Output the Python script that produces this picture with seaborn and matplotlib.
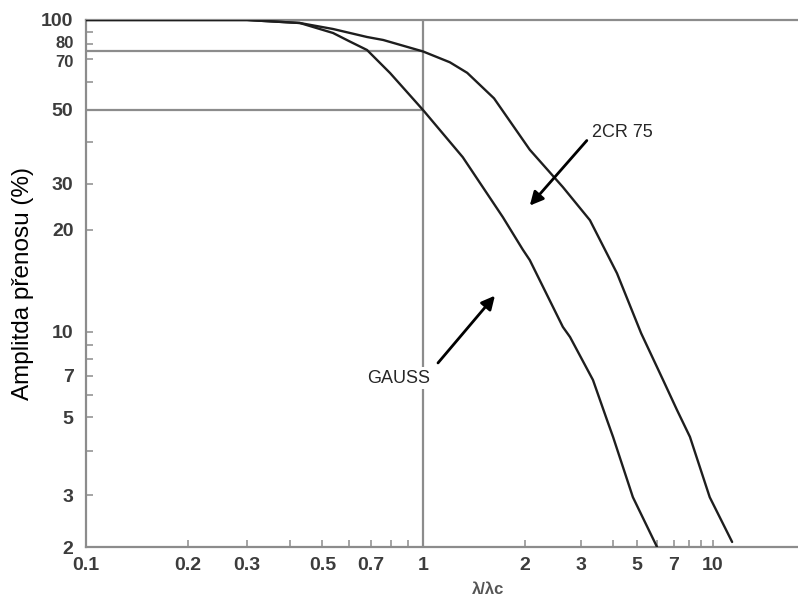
import matplotlib
matplotlib.use("Agg")
import matplotlib.pyplot as plt
import matplotlib.ticker as mticker
import matplotlib.transforms as mtrans
import seaborn as sns
import pandas as pd
import numpy as np

# ---- data (x = lambda/lambda_c, y = amplitude %) ----
gauss_x = [0.1, 0.3, 0.428, 0.538, 0.6, 0.68, 0.797, 1.0, 1.31, 1.72, 1.97, 2.07, 2.63, 2.77, 3.34, 3.79, 4.0, 4.81, 6.0]
gauss_y = [100, 100, 97.3, 88.8, 82.5, 76.0, 63.8, 50.0, 36.1, 22.4, 17.5, 16.3, 10.35, 9.6, 6.76, 4.9, 4.39, 2.95, 2.0]

cr_x = [0.1, 0.3, 0.428, 0.538, 0.68, 0.76, 1.0, 1.2, 1.35, 1.62, 2.07, 2.63, 3.25, 4.15, 5.19, 6.34, 7.2, 8.1, 9.7, 11.9]
cr_y = [100, 100, 97.3, 92.1, 85.6, 83.3, 75.0, 68.5, 63.9, 54.0, 38.0, 29.2, 21.8, 14.9, 9.9, 6.76, 5.29, 4.39, 2.95, 2.08]

x_ticks = [0.1, 0.2, 0.3, 0.5, 0.7, 1, 2, 3, 5, 7, 10]
x_minor = [0.4, 0.6, 0.8, 0.9, 4, 6, 8, 9]
y_ticks = [2, 3, 5, 7, 10, 20, 30, 50, 70, 80, 100]
y_minor = [4, 6, 8, 9, 40, 60, 90]

cutoff = 1.0
levels = [75, 50]

df = pd.concat([
    pd.DataFrame({"x": gauss_x, "y": gauss_y, "filtr": "GAUSS"}),
    pd.DataFrame({"x": cr_x, "y": cr_y, "filtr": "2CR 75"}),
])

# the printed scales are not quite logarithmic, so use a warped log scale
x_anchor = np.log10([0.05, 0.1, 0.2, 0.3, 0.4, 1, 2, 3, 4, 5, 10, 20, 40])
x_pos = np.array([-16, 86, 188, 247, 290, 423, 525, 581, 613, 637, 713, 789, 865], float)
y_anchor = np.log10([1, 2, 3, 5, 10, 20, 30, 50, 70, 100, 200])
y_pos = 547 - np.array([636, 547, 495, 417, 332, 230, 184, 110, 59, 20, -56], float)


def make_scale(anchor, pos):
    def fwd(v):
        with np.errstate(divide="ignore", invalid="ignore"):
            lv = np.log10(np.clip(v, 1e-6, None))
        return np.interp(lv, anchor, pos)

    def inv(p):
        return 10 ** np.interp(p, pos, anchor)
    return fwd, inv


sns.set_style("white")
plt.rcParams["font.family"] = ["Liberation Sans", "DejaVu Sans"]

fig = plt.figure(figsize=(7.98, 6), dpi=100)
ax = fig.add_axes([86 / 798, 53 / 600, 712 / 798, 527 / 600])
ax.set_xscale("function", functions=make_scale(x_anchor, x_pos))
ax.set_yscale("function", functions=make_scale(y_anchor, y_pos))

grey = "#8c8c8c"
# reference lines
ax.axvline(cutoff, color=grey, lw=1.6, zorder=1)
for lv in levels:
    ax.hlines(lv, 0.1, cutoff, color=grey, lw=1.6, zorder=1)

sns.lineplot(data=df, x="x", y="y", hue="filtr", palette=["#1e1e1e", "#1e1e1e"],
             sort=False, estimator=None, lw=1.7, legend=False, ax=ax, zorder=3)

ax.set_xlim(0.1, 21.7)
ax.set_ylim(2, 100)

ax.xaxis.set_major_locator(mticker.FixedLocator(x_ticks))
ax.xaxis.set_minor_locator(mticker.FixedLocator(x_minor))
ax.xaxis.set_major_formatter(mticker.FixedFormatter([f"{v:g}" for v in x_ticks]))
ax.xaxis.set_minor_formatter(mticker.NullFormatter())
ax.yaxis.set_major_locator(mticker.FixedLocator(y_ticks))
ax.yaxis.set_minor_locator(mticker.FixedLocator(y_minor))
ax.yaxis.set_major_formatter(mticker.FixedFormatter([f"{v:g}" for v in y_ticks]))
ax.yaxis.set_minor_formatter(mticker.NullFormatter())

ax.tick_params(which="both", direction="in", length=5, width=1.1, color=grey,
               bottom=True, left=True, top=False, right=False,
               labelsize=14, labelcolor="#3c3c3c")
ax.tick_params(axis="x", pad=7)
ax.tick_params(axis="y", pad=9)
for lab in ax.get_xticklabels() + ax.get_yticklabels():
    lab.set_fontweight("bold")

# 80 and 70 sit very close together, nudge them apart a little
for lab in ax.get_yticklabels():
    if lab.get_text() in ("80", "70"):
        lab.set_fontsize(12)
        dy = 2 if lab.get_text() == "80" else -2
        lab.set_transform(lab.get_transform() + mtrans.ScaledTranslation(0, dy / 100, fig.dpi_scale_trans))

for side in ["left", "bottom", "top"]:
    ax.spines[side].set_color(grey)
    ax.spines[side].set_linewidth(1.6)
ax.spines["right"].set_visible(False)

ax.set_ylabel("Amplitda přenosu (%)", fontsize=17.5, color="black", labelpad=5)
ax.set_xlabel("λ/λc", fontsize=12, fontweight="bold", color="#555555", labelpad=4)
ax.xaxis.set_label_coords(0.565, -0.067)

arrow = dict(arrowstyle="-|>", color="black", lw=2, mutation_scale=20, shrinkA=0, shrinkB=0)
ax.annotate("", xy=(2.07, 24.8), xytext=(3.16, 40.5), arrowprops=arrow, zorder=4)
ax.text(3.31, 42.8, "2CR 75", fontsize=13, ha="left", va="center",
        bbox=dict(facecolor="white", edgecolor="none", pad=2))
ax.annotate("", xy=(1.63, 12.8), xytext=(1.107, 7.77), arrowprops=arrow, zorder=4)
ax.text(0.847, 6.87, "GAUSS", fontsize=13, ha="center", va="center",
        bbox=dict(facecolor="white", edgecolor="none", pad=2))

fig.savefig("out.png", dpi=100)
